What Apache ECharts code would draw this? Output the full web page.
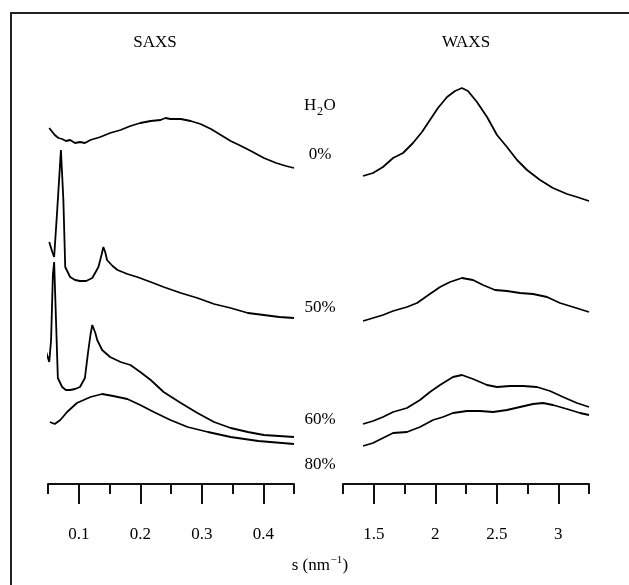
<!DOCTYPE html>
<html><head><meta charset="utf-8">
<script src="https://cdn.jsdelivr.net/npm/echarts@6/dist/echarts.min.js"></script>
<style>html,body{margin:0;padding:0;background:#fff}#c{width:629px;height:585px}</style>
</head><body><div id="c"></div>
<script>
// s (nm^-1) vs. stacked intensity (arbitrary units, curves offset)
const saxs0 = [[0.052,356],[0.061,349],[0.067,346],[0.073,345],[0.079,343],[0.086,344],[0.094,341],[0.102,342],[0.110,341],[0.119,344],[0.135,347],[0.151,351],[0.168,354],[0.184,358],[0.200,361],[0.217,363],[0.233,364],[0.241,366],[0.249,365],[0.266,365],[0.282,363],[0.298,360],[0.315,355],[0.331,349],[0.347,343],[0.364,338],[0.380,333],[0.401,326],[0.421,321],[0.437,318],[0.450,316]];
const saxs50 = [[0.052,242],[0.057,232],[0.060,227],[0.065,274],[0.071,334],[0.075,284],[0.078,217],[0.086,207],[0.094,204],[0.102,203],[0.112,203],[0.122,206],[0.132,217],[0.137,229],[0.140,237],[0.143,232],[0.146,224],[0.155,218],[0.163,214],[0.179,210],[0.195,207],[0.217,202],[0.238,197],[0.266,191],[0.293,186],[0.320,180],[0.347,176],[0.375,171],[0.401,169],[0.426,167],[0.450,166]];
const saxs60 = [[0.047,132],[0.052,122],[0.055,144],[0.058,210],[0.060,222],[0.063,164],[0.066,106],[0.073,97],[0.079,94],[0.086,94],[0.094,95],[0.102,97],[0.110,106],[0.115,131],[0.119,149],[0.122,159],[0.127,151],[0.130,144],[0.138,134],[0.151,127],[0.168,122],[0.184,119],[0.200,112],[0.217,104],[0.238,92],[0.266,81],[0.293,71],[0.320,62],[0.347,56],[0.375,52],[0.401,49],[0.450,47]];
const saxs80 = [[0.053,62],[0.061,60],[0.070,64],[0.081,72],[0.097,81],[0.119,87],[0.138,90],[0.156,88],[0.179,85],[0.200,79],[0.222,72],[0.249,64],[0.277,57],[0.310,52],[0.347,47],[0.392,43],[0.450,40]];
const waxs0 = [[1.413,308],[1.494,311],[1.575,317],[1.657,326],[1.738,331],[1.819,341],[1.892,352],[1.957,364],[2.022,376],[2.096,387],[2.161,393],[2.217,396],[2.266,393],[2.339,382],[2.421,367],[2.502,349],[2.583,337],[2.665,324],[2.746,314],[2.852,304],[2.957,296],[3.071,290],[3.152,287],[3.250,283]];
const waxs50 = [[1.413,163],[1.494,166],[1.575,169],[1.657,173],[1.770,177],[1.852,181],[1.933,188],[2.039,197],[2.120,202],[2.217,206],[2.307,204],[2.388,199],[2.486,194],[2.583,193],[2.689,191],[2.795,190],[2.909,187],[3.014,181],[3.120,177],[3.250,172]];
const waxs60 = [[1.413,60],[1.494,63],[1.575,67],[1.657,72],[1.770,76],[1.876,84],[1.957,92],[2.039,99],[2.144,107],[2.217,109],[2.307,105],[2.421,99],[2.502,97],[2.608,98],[2.713,98],[2.827,97],[2.933,93],[3.039,87],[3.152,81],[3.250,77]];
const waxs80 = [[1.413,38],[1.494,41],[1.575,46],[1.657,51],[1.770,52],[1.876,57],[1.982,64],[2.063,67],[2.144,71],[2.258,73],[2.364,73],[2.470,72],[2.583,74],[2.689,77],[2.795,80],[2.876,81],[2.957,79],[3.071,75],[3.177,71],[3.250,69]];
const saxsTicks = [0.1, 0.2, 0.3, 0.4];
const waxsTicks = [1.5, 2, 2.5, 3];
const saxsRange = [0.05, 0.45];
const waxsRange = [1.25, 3.25];
const hydration = ['0%', '50%', '60%', '80%'];
const panelTitles = ['SAXS', 'WAXS'];

const FONT = 'Liberation Serif, Times New Roman, serif';
const FS = 17;
const chart = echarts.init(document.getElementById('c'), null, {renderer: 'canvas'});
const T = 44, H = 440;
const sPx = [48, 246], wPx = [343, 246];
const sStep = sPx[1] / (saxsRange[1] - saxsRange[0]);
const wStep = wPx[1] / (waxsRange[1] - waxsRange[0]);
const grids = [
  {left: sPx[0], top: T, width: sPx[1], height: H},
  {left: sPx[0], top: T, width: sPx[1], height: H},
  {left: sPx[0] + (saxsTicks[0] - saxsRange[0]) * sStep, top: T, width: (saxsTicks[3] - saxsTicks[0]) * sStep, height: H},
  {left: wPx[0], top: T, width: wPx[1], height: H},
  {left: wPx[0], top: T, width: wPx[1], height: H},
  {left: wPx[0] + (waxsTicks[0] - waxsRange[0]) * wStep, top: T, width: (waxsTicks[3] - waxsTicks[0]) * wStep, height: H}
];
const lineCol = '#111';
function hiddenX(i, min, max) { return {type: 'value', gridIndex: i, min, max, show: false}; }
function minorX(i, span, step) {
  return {type: 'value', gridIndex: i, min: 0, max: span, interval: step,
    axisLine: {show: true, lineStyle: {color: lineCol, width: 2}},
    axisTick: {show: true, length: 10, lineStyle: {color: lineCol, width: 2}},
    axisLabel: {show: false}, splitLine: {show: false}};
}
function majorX(i, ticks, step) {
  return {type: 'value', gridIndex: i, min: ticks[0], max: ticks[ticks.length - 1], interval: step,
    axisLine: {show: false},
    axisTick: {show: true, length: 20, lineStyle: {color: lineCol, width: 2}},
    axisLabel: {show: true, margin: 42, color: '#000', fontFamily: FONT, fontSize: FS,
      formatter: v => String(+v.toFixed(2))},
    splitLine: {show: false}};
}
const xAxes = [
  hiddenX(0, saxsRange[0], saxsRange[1]),
  minorX(1, +(saxsRange[1] - saxsRange[0]).toFixed(2), 0.1),
  majorX(2, saxsTicks, 0.1),
  hiddenX(3, waxsRange[0], waxsRange[1]),
  minorX(4, waxsRange[1] - waxsRange[0], 0.5),
  majorX(5, waxsTicks, 0.5)
];
const yAxes = grids.map((g, i) => ({type: 'value', gridIndex: i, min: 0, max: H, show: false}));
function ln(data, xi) {
  return {type: 'line', data, xAxisIndex: xi, yAxisIndex: xi, showSymbol: false, clip: false,
    lineStyle: {color: '#000', width: 1.8}, animation: false};
}
const series = [ln(saxs0, 0), ln(saxs50, 0), ln(saxs60, 0), ln(saxs80, 0),
  ln(waxs0, 3), ln(waxs50, 3), ln(waxs60, 3), ln(waxs80, 3)];
function txt(x, y, text, extra) {
  return {type: 'text', x, y, style: Object.assign({text, fill: '#000', align: 'center', verticalAlign: 'middle', fontFamily: FONT, fontSize: FS}, extra || {})};
}
const labelY = [155, 308, 420, 465];
const graphic = [
  {type: 'rect', shape: {x: 11, y: 13, width: 1000, height: 1000}, style: {fill: 'none', stroke: '#222', lineWidth: 2}},
  txt(155, 43, panelTitles[0]),
  txt(466, 43, panelTitles[1]),
  // H2O with subscript
  txt(304, 106, 'H', {align: 'left'}),
  txt(317, 112, '2', {align: 'left', fontSize: 12}),
  txt(323.5, 106, 'O', {align: 'left'}),
  ...hydration.map((h, i) => txt(320, labelY[i], h)),
  // s (nm^-1)
  txt(330, 566, 's (nm', {align: 'right'}),
  txt(330.5, 560, '\u22121', {align: 'left', fontSize: 11}),
  txt(342.5, 566, ')', {align: 'left'})
];
chart.setOption({animation: false, backgroundColor: '#fff', grid: grids, xAxis: xAxes, yAxis: yAxes, series, graphic});
</script></body></html>
